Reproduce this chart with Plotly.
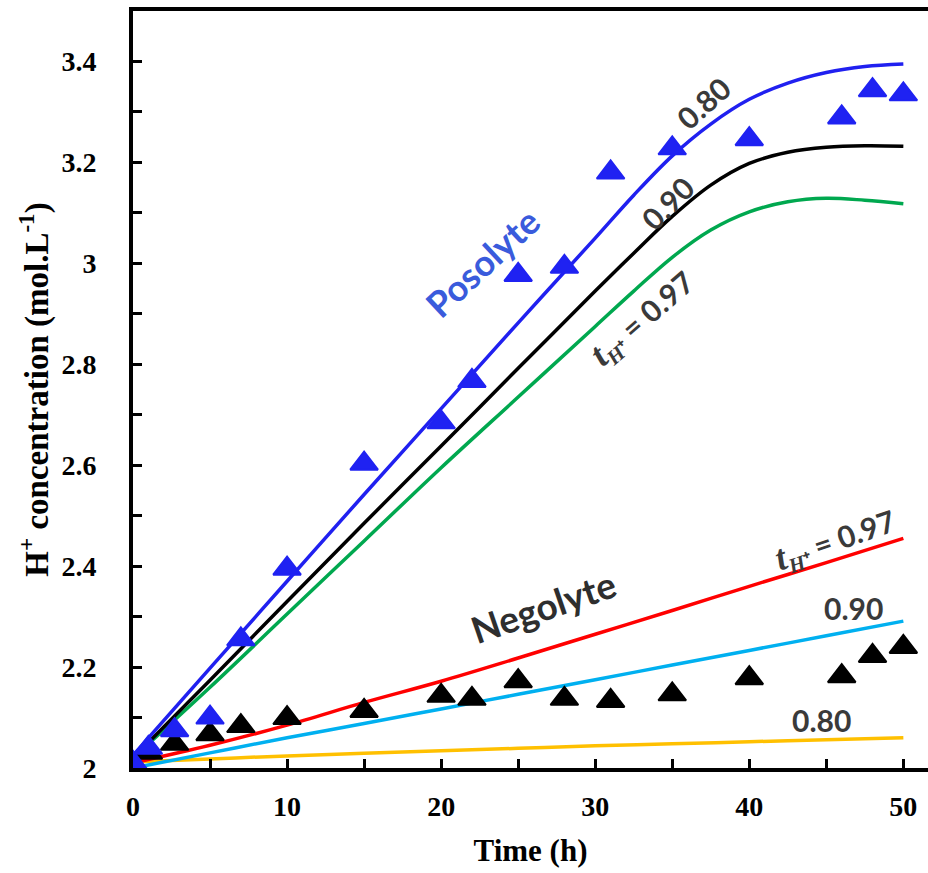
import plotly.graph_objects as go

# ---- data ----
t_exp = [0, 1, 2.7, 5, 7, 10, 15, 20, 22, 25, 28, 31, 35, 40, 46, 48, 50]
posolyte_exp = [2.01, 2.04, 2.075, 2.10, 2.255, 2.395, 2.603, 2.685, 2.767, 2.977, 2.993, 3.18, 3.228, 3.246, 3.289, 3.343, 3.335]
negolyte_exp = [2.008, 2.03, 2.048, 2.067, 2.083, 2.099, 2.113, 2.143, 2.137, 2.172, 2.137, 2.133, 2.146, 2.178, 2.182, 2.222, 2.24]

t_model = [0, 5, 10, 15, 20, 25, 30, 32.5, 35, 37.5, 40, 42.5, 45, 47.5, 50]
pos_080 = [2.025, 2.198, 2.37, 2.542, 2.712, 2.882, 3.05, 3.135, 3.213, 3.276, 3.325, 3.357, 3.378, 3.39, 3.395]
pos_090 = [2.02, 2.174, 2.33, 2.485, 2.638, 2.792, 2.945, 3.02, 3.093, 3.155, 3.198, 3.22, 3.23, 3.233, 3.232]
pos_097 = [2.02, 2.16, 2.305, 2.45, 2.595, 2.735, 2.875, 2.945, 3.012, 3.066, 3.102, 3.122, 3.129, 3.125, 3.118]

t_neg = [0, 5, 10, 15, 20, 25, 30, 35, 40, 45, 50]
neg_097 = [2.01, 2.045, 2.085, 2.13, 2.172, 2.218, 2.265, 2.312, 2.36, 2.407, 2.455]
neg_090 = [2.0, 2.03, 2.06, 2.088, 2.117, 2.146, 2.175, 2.204, 2.233, 2.262, 2.291]
neg_080 = [2.012, 2.018, 2.024, 2.029, 2.034, 2.039, 2.044, 2.048, 2.052, 2.056, 2.06]

x_ticks = [0, 10, 20, 30, 40, 50]
x_minor = [5, 15, 25, 35, 45]
y_ticks = [2, 2.2, 2.4, 2.6, 2.8, 3, 3.2, 3.4]
y_ticktext = ["2", "2.2", "2.4", "2.6", "2.8", "3", "3.2", "3.4"]
y_minor = [2.1, 2.3, 2.5, 2.7, 2.9, 3.1, 3.3]

fig = go.Figure()

def add_line(x, y, color):
    fig.add_trace(go.Scatter(x=x, y=y, mode="lines",
                             line=dict(color=color, width=3.5, shape="spline", smoothing=1.0),
                             showlegend=False, hoverinfo="skip"))

add_line(t_neg, neg_080, "#FFC000")
add_line(t_neg, neg_090, "#00B0F0")
add_line(t_neg, neg_097, "#FF0000")
add_line(t_model, pos_097, "#00A84F")
add_line(t_model, pos_090, "#000000")
add_line(t_model, pos_080, "#2020F0")

fig.add_trace(go.Scatter(x=t_exp, y=negolyte_exp, mode="markers",
                         marker=dict(symbol="triangle-up", size=24, color="#000000",
                                     line=dict(color="#000000", width=2)),
                         showlegend=False))
fig.add_trace(go.Scatter(x=t_exp, y=posolyte_exp, mode="markers",
                         marker=dict(symbol="triangle-up", size=24, color="#1F22F2",
                                     line=dict(color="#1F22F2", width=2)),
                         showlegend=False))

txt = "#3A3A3A"
lab_font = dict(family="Lato", size=30, color=txt, weight="bold")
tH = ('<span style="font-family:Liberation Serif;font-size:36px"><i>t</i></span>'
      '<span style="font-family:Liberation Serif"><sub><i>H</i>⁺</sub></span>')

annots = [
    (37.0, 3.317, "0.80", -42, lab_font),
    (34.7, 3.119, "0.90", -45, lab_font),
    (33.1, 2.891, tH + " = 0.97", -41, lab_font),
    (22.7, 3.002, "Posolyte", -43, dict(family="Lato", size=36, color="#3A5BDC", weight="bold")),
    (26.6, 2.321, "Negolyte", -19, dict(family="Lato", size=37, color="#2E2E2E", weight="bold")),
    (45.6, 2.451, tH + " = 0.97", -19, lab_font),
    (46.75, 2.317, "0.90", 0, lab_font),
    (44.7, 2.095, "0.80", 0, lab_font),
]
for x, y, s, ang, f in annots:
    fig.add_annotation(x=x, y=y, text=s, textangle=ang, showarrow=False, font=f,
                       xanchor="center", yanchor="middle")

axis_font = dict(family="Liberation Serif", size=28, color="#000000", weight="bold")
fig.update_xaxes(range=[0, 51.6], tickvals=x_ticks, ticks="inside", ticklen=9, tickwidth=3,
                 tickcolor="#000", showline=True, linewidth=4, linecolor="#000", mirror=True,
                 showgrid=False, zeroline=False, tickfont=axis_font, automargin=False,
                 ticklabelstandoff=10,
                 minor=dict(tickvals=x_minor, ticks="inside", ticklen=9, tickwidth=3, tickcolor="#000"),
                 title=dict(text="<b>Time (h)</b>", font=dict(family="Liberation Serif", size=31, color="#000"),
                            standoff=20))
fig.update_yaxes(range=[2, 3.5], tickvals=y_ticks, ticktext=y_ticktext, ticks="inside", ticklen=9,
                 tickwidth=3, tickcolor="#000", showline=True, linewidth=4, linecolor="#000",
                 showgrid=False, zeroline=False, tickfont=axis_font, ticklabelstandoff=27,
                 automargin=False, mirror=False,
                 minor=dict(tickvals=y_minor, ticks="inside", ticklen=9, tickwidth=3, tickcolor="#000"),
                 title=dict(text="<b>H<sup>+</sup> concentration (mol.L<sup>-1</sup>)</b>",
                            font=dict(family="Liberation Serif", size=33, color="#000"), standoff=4))

fig.update_layout(width=928, height=873, margin=dict(l=133, r=0, t=11, b=105, autoexpand=False),
                  plot_bgcolor="white", paper_bgcolor="white")

fig.write_html("out.html", config={"displayModeBar": False},
               post_script="document.body.style.margin='0';document.body.style.overflow='hidden';")
